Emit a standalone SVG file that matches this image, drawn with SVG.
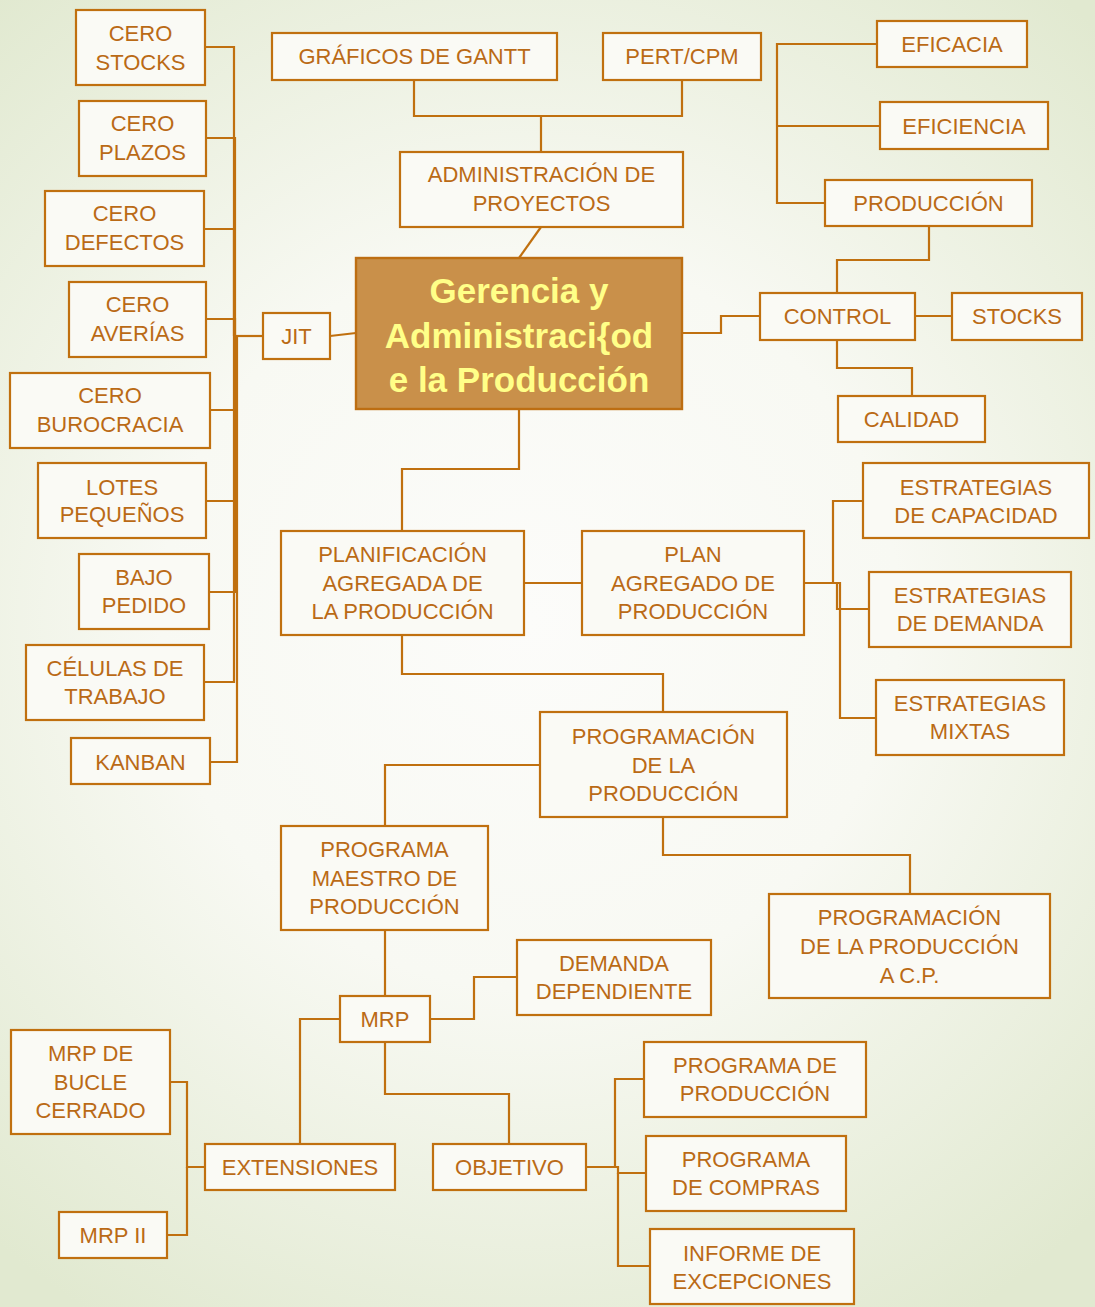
<svg xmlns="http://www.w3.org/2000/svg" width="1095" height="1307" viewBox="0 0 1095 1307">
  <defs>
    <radialGradient id="bg" cx="530" cy="620" r="820" gradientUnits="userSpaceOnUse">
      <stop offset="0" stop-color="#FCFCFA"/>
      <stop offset="0.45" stop-color="#F8F9F3"/>
      <stop offset="1" stop-color="#E1E9D0"/>
    </radialGradient>
    <style>
      .box { fill: #FAFAF5; stroke: #C0700F; stroke-width: 2.2; }
      .core { fill: #C9904A; stroke: #BD6E12; stroke-width: 2.4; }
      .lbl { font-family: "Liberation Sans", Arial, sans-serif; font-size: 22px; fill: #BA6A16; text-anchor: middle; }
      .title { font-family: "Liberation Sans", Arial, sans-serif; font-size: 35px; font-weight: bold; fill: #FFFF88; text-anchor: middle; }
      .wire { fill: none; stroke: #C0700F; stroke-width: 2.2; }
    </style>
  </defs>

  <rect x="0" y="0" width="1095" height="1307" fill="url(#bg)"/>

  <!-- connectors -->
  <g id="connectors" class="wire">
    <!-- JIT branch -->
    <path d="M263 336 H236"/>
    <path d="M205 47 H234 V336"/>
    <path d="M206 138 H235 V336"/>
    <path d="M204 229 H234 V336"/>
    <path d="M206 319 H235 V336"/>
    <path d="M210 410 H235 V336"/>
    <path d="M206 501 H236 V336"/>
    <path d="M209 592 H236 V336"/>
    <path d="M204 682 H234 V336"/>
    <path d="M210 762 H237 V336"/>
    <path d="M330 336 L356 333"/>
    <!-- project administration -->
    <path d="M414 80 V116 H682 V80"/>
    <path d="M541 116 V152"/>
    <path d="M541 227 L519 258"/>
    <!-- control branch -->
    <path d="M682 333 H721 V316 H760"/>
    <path d="M915 316 H952"/>
    <path d="M837 340 V368 H912 V396"/>
    <path d="M837 293 V260 H929 V226"/>
    <path d="M825 203 H777 V44 H877"/>
    <path d="M777 126 H880"/>
    <!-- planning branch -->
    <path d="M519 409 V469 H402 V531"/>
    <path d="M524 583 H582"/>
    <path d="M804 583 H833 V501 H863"/>
    <path d="M804 583 H837 V609 H869"/>
    <path d="M804 583 H840 V718 H876"/>
    <path d="M402 635 V674 H663 V712"/>
    <path d="M540 765 H385 V826"/>
    <path d="M663 817 V855 H910 V894"/>
    <!-- MRP branch -->
    <path d="M385 930 V996"/>
    <path d="M430 1019 H474 V977 H517"/>
    <path d="M340 1019 H300 V1144"/>
    <path d="M385 1042 V1094 H509 V1144"/>
    <path d="M205 1167 H187 V1082 H170"/>
    <path d="M187 1167 V1235 H167"/>
    <path d="M586 1167 H615 V1079 H644"/>
    <path d="M615 1167 H618 V1173 H646"/>
    <path d="M618 1173 V1266 H650"/>
  </g>

  <!-- central node -->
  <g id="gerencia">
    <rect class="core" x="356" y="258" width="326" height="151"/>
    <text class="title" x="519" y="303">Gerencia y</text>
    <text class="title" x="519" y="348">Administraci{od</text>
    <text class="title" x="519" y="392">e la Producción</text>
  </g>

  <!-- JIT and its elements -->
  <g id="jit"><rect class="box" x="263" y="313" width="67" height="46"/><text class="lbl" x="296.5" y="344">JIT</text></g>
  <g id="cero-stocks"><rect class="box" x="76" y="10" width="129" height="75"/><text class="lbl" x="140.5" y="41">CERO</text><text class="lbl" x="140.5" y="70">STOCKS</text></g>
  <g id="cero-plazos"><rect class="box" x="79" y="101" width="127" height="75"/><text class="lbl" x="142.5" y="131">CERO</text><text class="lbl" x="142.5" y="160">PLAZOS</text></g>
  <g id="cero-defectos"><rect class="box" x="45" y="191" width="159" height="75"/><text class="lbl" x="124.5" y="221">CERO</text><text class="lbl" x="124.5" y="250">DEFECTOS</text></g>
  <g id="cero-averias"><rect class="box" x="69" y="282" width="137" height="75"/><text class="lbl" x="137.5" y="312">CERO</text><text class="lbl" x="137.5" y="341">AVERÍAS</text></g>
  <g id="cero-burocracia"><rect class="box" x="10" y="373" width="200" height="75"/><text class="lbl" x="110" y="403">CERO</text><text class="lbl" x="110" y="432">BUROCRACIA</text></g>
  <g id="lotes-pequenos"><rect class="box" x="38" y="463" width="168" height="75"/><text class="lbl" x="122" y="495">LOTES</text><text class="lbl" x="122" y="522">PEQUEÑOS</text></g>
  <g id="bajo-pedido"><rect class="box" x="79" y="554" width="130" height="75"/><text class="lbl" x="144" y="585">BAJO</text><text class="lbl" x="144" y="613">PEDIDO</text></g>
  <g id="celulas-trabajo"><rect class="box" x="26" y="645" width="178" height="75"/><text class="lbl" x="115" y="676">CÉLULAS DE</text><text class="lbl" x="115" y="704">TRABAJO</text></g>
  <g id="kanban"><rect class="box" x="71" y="738" width="139" height="46"/><text class="lbl" x="140.5" y="770">KANBAN</text></g>

  <!-- project administration -->
  <g id="gantt"><rect class="box" x="272" y="33" width="285" height="47"/><text class="lbl" x="414.5" y="64">GRÁFICOS DE GANTT</text></g>
  <g id="pert-cpm"><rect class="box" x="603" y="33" width="158" height="47"/><text class="lbl" x="682" y="64">PERT/CPM</text></g>
  <g id="admin-proyectos"><rect class="box" x="400" y="152" width="283" height="75"/><text class="lbl" x="541.5" y="182">ADMINISTRACIÓN DE</text><text class="lbl" x="541.5" y="211">PROYECTOS</text></g>

  <!-- control -->
  <g id="eficacia"><rect class="box" x="877" y="21" width="150" height="46"/><text class="lbl" x="952" y="52">EFICACIA</text></g>
  <g id="eficiencia"><rect class="box" x="880" y="102" width="168" height="47"/><text class="lbl" x="964" y="134">EFICIENCIA</text></g>
  <g id="produccion"><rect class="box" x="825" y="180" width="207" height="46"/><text class="lbl" x="928.5" y="211">PRODUCCIÓN</text></g>
  <g id="control"><rect class="box" x="760" y="293" width="155" height="47"/><text class="lbl" x="837.5" y="324">CONTROL</text></g>
  <g id="stocks"><rect class="box" x="952" y="293" width="130" height="47"/><text class="lbl" x="1017" y="324">STOCKS</text></g>
  <g id="calidad"><rect class="box" x="838" y="396" width="147" height="46"/><text class="lbl" x="911.5" y="427">CALIDAD</text></g>

  <!-- aggregate planning -->
  <g id="planificacion-agregada"><rect class="box" x="281" y="531" width="243" height="104"/><text class="lbl" x="402.5" y="562">PLANIFICACIÓN</text><text class="lbl" x="402.5" y="591">AGREGADA DE</text><text class="lbl" x="402.5" y="619">LA PRODUCCIÓN</text></g>
  <g id="plan-agregado"><rect class="box" x="582" y="531" width="222" height="104"/><text class="lbl" x="693" y="562">PLAN</text><text class="lbl" x="693" y="591">AGREGADO DE</text><text class="lbl" x="693" y="619">PRODUCCIÓN</text></g>
  <g id="estrategias-capacidad"><rect class="box" x="863" y="463" width="226" height="75"/><text class="lbl" x="976" y="495">ESTRATEGIAS</text><text class="lbl" x="976" y="523">DE CAPACIDAD</text></g>
  <g id="estrategias-demanda"><rect class="box" x="869" y="572" width="202" height="75"/><text class="lbl" x="970" y="603">ESTRATEGIAS</text><text class="lbl" x="970" y="631">DE DEMANDA</text></g>
  <g id="estrategias-mixtas"><rect class="box" x="876" y="680" width="188" height="75"/><text class="lbl" x="970" y="711">ESTRATEGIAS</text><text class="lbl" x="970" y="739">MIXTAS</text></g>

  <!-- production scheduling -->
  <g id="programacion-produccion"><rect class="box" x="540" y="712" width="247" height="105"/><text class="lbl" x="663.5" y="744">PROGRAMACIÓN</text><text class="lbl" x="663.5" y="773">DE LA</text><text class="lbl" x="663.5" y="801">PRODUCCIÓN</text></g>
  <g id="programa-maestro"><rect class="box" x="281" y="826" width="207" height="104"/><text class="lbl" x="384.5" y="857">PROGRAMA</text><text class="lbl" x="384.5" y="886">MAESTRO DE</text><text class="lbl" x="384.5" y="914">PRODUCCIÓN</text></g>
  <g id="programacion-cp"><rect class="box" x="769" y="894" width="281" height="104"/><text class="lbl" x="909.5" y="925">PROGRAMACIÓN</text><text class="lbl" x="909.5" y="954">DE LA PRODUCCIÓN</text><text class="lbl" x="909.5" y="983">A C.P.</text></g>

  <!-- MRP -->
  <g id="mrp"><rect class="box" x="340" y="996" width="90" height="46"/><text class="lbl" x="385" y="1027">MRP</text></g>
  <g id="demanda-dependiente"><rect class="box" x="517" y="940" width="194" height="75"/><text class="lbl" x="614" y="971">DEMANDA</text><text class="lbl" x="614" y="999">DEPENDIENTE</text></g>
  <g id="extensiones"><rect class="box" x="205" y="1144" width="190" height="46"/><text class="lbl" x="300" y="1175">EXTENSIONES</text></g>
  <g id="objetivo"><rect class="box" x="433" y="1144" width="153" height="46"/><text class="lbl" x="509.5" y="1175">OBJETIVO</text></g>
  <g id="mrp-bucle-cerrado"><rect class="box" x="11" y="1030" width="159" height="104"/><text class="lbl" x="90.5" y="1061">MRP DE</text><text class="lbl" x="90.5" y="1090">BUCLE</text><text class="lbl" x="90.5" y="1118">CERRADO</text></g>
  <g id="mrp-ii"><rect class="box" x="59" y="1212" width="108" height="46"/><text class="lbl" x="113" y="1243">MRP II</text></g>
  <g id="programa-produccion"><rect class="box" x="644" y="1042" width="222" height="75"/><text class="lbl" x="755" y="1073">PROGRAMA DE</text><text class="lbl" x="755" y="1101">PRODUCCIÓN</text></g>
  <g id="programa-compras"><rect class="box" x="646" y="1136" width="200" height="75"/><text class="lbl" x="746" y="1167">PROGRAMA</text><text class="lbl" x="746" y="1195">DE COMPRAS</text></g>
  <g id="informe-excepciones"><rect class="box" x="650" y="1229" width="204" height="75"/><text class="lbl" x="752" y="1261">INFORME DE</text><text class="lbl" x="752" y="1289">EXCEPCIONES</text></g>
</svg>
